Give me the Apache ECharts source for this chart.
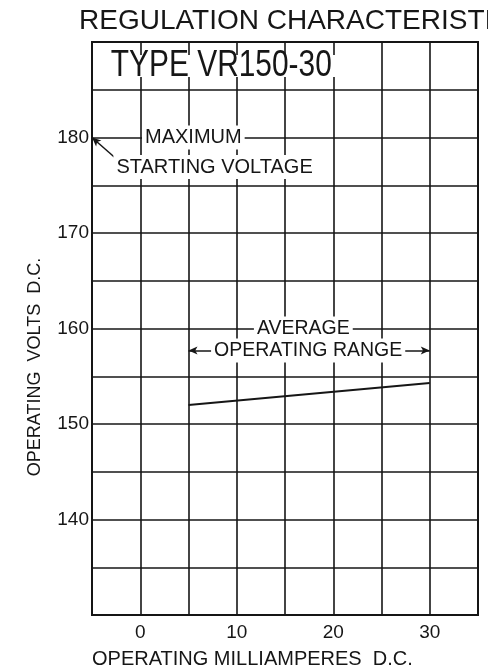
<!DOCTYPE html>
<html>
<head>
<meta charset="utf-8">
<script src="https://cdn.jsdelivr.net/npm/echarts@6/dist/echarts.min.js"></script>
<style>
  html, body { margin: 0; padding: 0; background: #fff; }
  #chart { width: 488px; height: 671px; }
</style>
</head>
<body>
<div id="chart"></div>
<script>
// operating curve (mA, volts)
const currentMa = [5, 30];
const volts = [152, 154.3];
const xTickLabels = [0, 10, 20, 30];
const yTickLabels = [140, 150, 160, 170, 180];

const ink = "#161616";
const font = "Liberation Sans, Arial, sans-serif";

// text notes placed in data space
function note(text, x, y, size) {
  return {
    coord: [x, y],
    symbol: "circle",
    symbolSize: 1,
    itemStyle: { color: "rgba(0,0,0,0)" },
    label: {
      show: true,
      position: "inside",
      formatter: text,
      color: ink,
      fontSize: size,
      fontFamily: font,
      backgroundColor: "#fff",
      padding: [2, 3]
    }
  };
}

const chart = echarts.init(document.getElementById("chart"));
chart.setOption({
  animation: false,
  backgroundColor: "#fff",
  title: {
    text: "REGULATION CHARACTERISTIC",
    left: 79,
    top: 7,
    padding: 0,
    textStyle: { color: ink, fontSize: 28, fontWeight: "normal", fontFamily: font }
  },
  grid: {
    left: 92, right: 10, top: 42, bottom: 56,
    show: true, borderColor: ink, borderWidth: 2, backgroundColor: "#fff"
  },
  xAxis: {
    type: "value", min: -5, max: 35, interval: 5,
    axisLine: { show: false },
    axisTick: { show: false },
    axisLabel: {
      margin: 8, color: ink, fontSize: 19, fontFamily: font,
      showMinLabel: false, showMaxLabel: false,
      formatter: v => xTickLabels.includes(v) ? String(v) : ""
    },
    splitLine: { show: true, lineStyle: { color: ink, width: 1.6 } }
  },
  yAxis: {
    type: "value", min: 130, max: 190, interval: 5,
    axisLine: { show: false },
    axisTick: { show: false },
    axisLabel: {
      margin: 3, color: ink, fontSize: 19, fontFamily: font,
      formatter: v => yTickLabels.includes(v) ? String(v) : ""
    },
    splitLine: { show: true, lineStyle: { color: ink, width: 1.6 } }
  },
  graphic: [
    {
      type: "text", x: 35, y: 367, rotation: Math.PI / 2,
      style: {
        text: "OPERATING  VOLTS  D.C.", fill: ink, fontSize: 18, fontFamily: font,
        align: "center", verticalAlign: "middle"
      }
    },
    {
      type: "text", x: 92, y: 659,
      style: {
        text: "OPERATING MILLIAMPERES  D.C.", fill: ink, fontSize: 20, fontFamily: font,
        align: "left", verticalAlign: "middle"
      }
    }
  ],
  series: [{
    type: "line",
    data: currentMa.map((x, i) => [x, volts[i]]),
    symbol: "none",
    lineStyle: { color: ink, width: 2 },
    markLine: {
      silent: true,
      label: { show: false },
      lineStyle: { color: ink, width: 1.5, type: "solid" },
      data: [
        [
          { coord: [5, 157.7], symbol: "arrow", symbolSize: [6, 9] },
          { coord: [30, 157.7], symbol: "arrow", symbolSize: [6, 9] }
        ],
        [
          { coord: [-2.4, 177.7], symbol: "none" },
          { coord: [-5, 180], symbol: "arrow", symbolSize: [6, 9] }
        ]
      ]
    },
    markPoint: {
      silent: true,
      data: [
        note("MAXIMUM", 5.5, 180, 20),
        note("STARTING VOLTAGE", 7.7, 176.9, 20),
        note("AVERAGE", 16.9, 160, 19.5),
        note("OPERATING RANGE", 17.4, 157.7, 19.5)
      ]
    }
  }]
});

// condensed box caption, anchored through the axes
const typePos = chart.convertToPixel({ gridIndex: 0 }, [8.4, 187.5]);
chart.setOption({
  graphic: [
    {}, {},
    {
      type: "text", x: typePos[0], y: typePos[1], scaleX: 0.83, z: 10,
      style: {
        text: "TYPE VR150-30", fill: ink, fontSize: 36, fontFamily: font,
        align: "center", verticalAlign: "middle", lineHeight: 22,
        backgroundColor: "#fff", padding: [0, 4]
      }
    }
  ]
});
</script>
</body>
</html>
